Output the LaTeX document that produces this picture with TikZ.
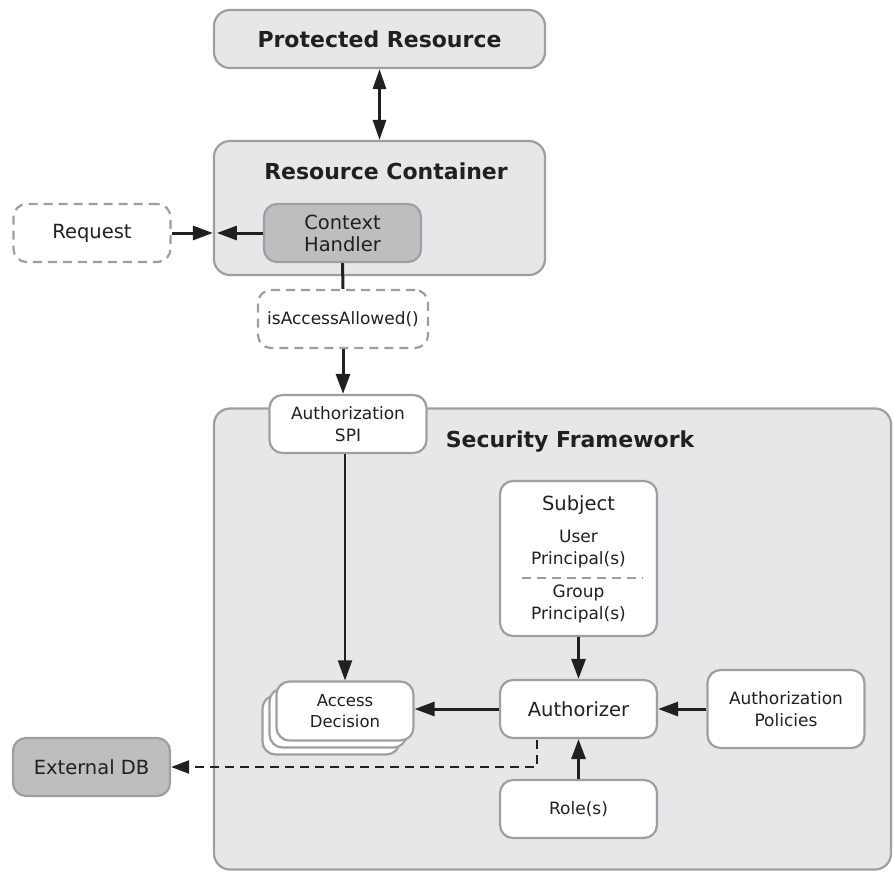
\documentclass[tikz,border=0pt]{standalone}
\usepackage{fontspec}
\setmainfont{DejaVu Sans}
\usetikzlibrary{arrows.meta}
\definecolor{lightfill}{HTML}{E6E7E8}
\definecolor{darkfill}{HTML}{BCBEC0}
\definecolor{edgegray}{HTML}{9D9FA2}
\definecolor{ink}{HTML}{231F20}
\begin{document}
\begin{tikzpicture}[x=1pt,y=-1pt,
  every node/.style={text=ink},
  big/.style={font=\fontsize{19.5}{22}\selectfont},
  small/.style={font=\fontsize{17}{22}\selectfont},
  box/.style={draw=edgegray, line width=2.2pt, rounded corners=13pt, fill=white, align=center, inner sep=0pt, minimum width=157pt, minimum height=58pt, small},
  panel/.style={draw=edgegray, line width=2.2pt, rounded corners=16pt, fill=lightfill, inner sep=0pt},
  dashbox/.style={box, dash pattern=on 9pt off 6pt},
  title/.style={font=\bfseries\fontsize{22}{24}\selectfont},
  arr/.style={draw=ink, line width=3pt, -{Triangle[length=20pt,width=14pt]}},
  dbl/.style={draw=ink, line width=3pt, {Triangle[length=20pt,width=13pt]}-{Triangle[length=20pt,width=13pt]}},
  plain/.style={draw=ink, line width=3pt}
]
\useasboundingbox (0,0) rectangle (893,871);
% panels
\node[panel, minimum width=331pt, minimum height=58pt, title] (pr) at (379.5,39) {Protected Resource};
\node[panel, minimum width=331pt, minimum height=134pt] (rc) at (379.5,208) {};
\node[title] (rctitle) at (386,171) {Resource Container};
\node[panel, minimum width=677pt, minimum height=461pt] (sf) at (552.5,639) {};
\node[title] (sftitle) at (570,442) {Security Framework};
% nodes
\node[box, fill=darkfill, big] (ch) at (342.5,233) {Context\\Handler};
\node[dashbox, big] (req) at (92,233) {Request};
\node[dashbox, minimum width=170pt] (isa) at (343,319) {isAccessAllowed()};
\node[box] (spi) at (348,424) {Authorization\\SPI};
\node[box, minimum height=155pt] (subj) at (578.5,558.5) {};
\node[big] (subjt) at (578.5,505) {Subject};
\node[small, align=center] (upr) at (578.5,549) {User\\Principal(s)};
\node[small, align=center] (gpr) at (578.5,604) {Group\\Principal(s)};
\coordinate (dl) at (522,578);
\coordinate (dr) at (643,578);
\draw[edgegray, line width=2pt, dash pattern=on 9pt off 6pt] (dl) -- (dr);
\node[box, big] (auth) at (578.5,709) {Authorizer};
\node[box, minimum height=78pt] (pol) at (786,709) {Authorization\\Policies};
\node[box] (role) at (578.5,809) {Role(s)};
\node[box, minimum width=137pt, minimum height=59pt] (ad3) at (331,725) {};
\node[box, minimum width=137pt, minimum height=59pt] (ad2) at (338,718) {};
\node[box, minimum width=137pt, minimum height=59pt, font=\fontsize{16.5}{21}\selectfont] (ad) at (345,711) {Access\\Decision};
\node[box, fill=darkfill, big] (db) at (91.5,767) {External DB};
% connectors
\draw[dbl] (pr.south) -- (rc.north);
\draw[arr] (req.east) -- (req.east -| rc.west);
\draw[arr] (ch.west) -- ([xshift=4pt]ch.west -| rc.west);
\draw[plain] (ch.south) -- (isa.north);
\draw[arr] (isa.south) -- (isa.south |- spi.north);
\draw[arr, line width=2pt] (ad.north |- spi.south) -- (ad.north);
\draw[arr] (subj.south) -- (auth.north);
\draw[arr] (auth.west) -- (auth.west -| ad.east);
\draw[arr] (pol.west) -- (auth.east);
\draw[arr] (role.north) -- (auth.south);
\coordinate (dtop) at (537,740);
\coordinate (dcorner) at (537,767);
\draw[draw=ink, line width=2.5pt, dash pattern=on 9pt off 6pt, -{Triangle[length=18pt,width=13pt]}] (dtop) -- (dcorner) -- (db.east);
\end{tikzpicture}
\end{document}
